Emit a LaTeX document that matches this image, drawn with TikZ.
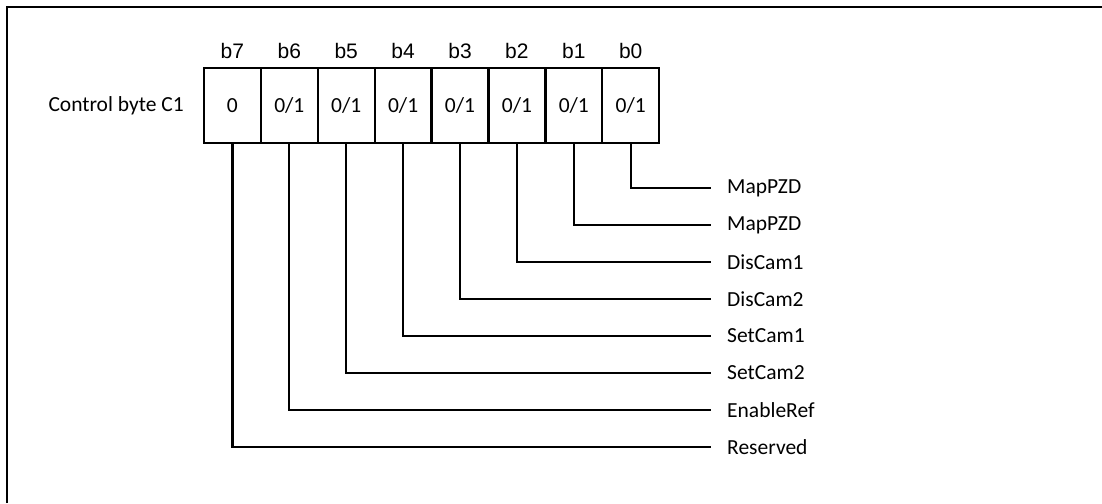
\documentclass[tikz,border=0pt]{standalone}
\usepackage{fontspec}
\setmainfont{Carlito}
\newfontfamily\bitfont{Liberation Sans}
\begin{document}
\begin{tikzpicture}[x=1pt,y=-1pt,
  every node/.style={font=\fontsize{21.5}{25}\selectfont},
  cell/.style={draw,line width=2.3pt,minimum width=56.9pt,minimum height=75pt,inner sep=0pt},
  bitlab/.style={inner sep=0pt,font=\bitfont\fontsize{21}{25}\selectfont},
  sig/.style={anchor=west,inner xsep=16pt,inner ysep=0pt},
  wire/.style={line width=2.3pt},
  frame/.style={line width=2.8pt}]
\useasboundingbox (0,0) rectangle (1102,503);
\coordinate (fbl) at (7,503);
\coordinate (ftl) at (7,7);
\coordinate (ftr) at (1102,7);
\draw[frame] (fbl) -- (ftl) -- (ftr);
\node[anchor=east,inner sep=0pt] (title) at (184,105.5) {Control byte C1};
\node[cell] (c7) at (232.4,105.5) {0};
\node[cell] (c6) at (289.3,105.5) {0/1};
\node[cell] (c5) at (346.2,105.5) {0/1};
\node[cell] (c4) at (403.1,105.5) {0/1};
\node[cell] (c3) at (460.0,105.5) {0/1};
\node[cell] (c2) at (516.9,105.5) {0/1};
\node[cell] (c1) at (573.8,105.5) {0/1};
\node[cell] (c0) at (630.7,105.5) {0/1};
\foreach \i in {0,...,7}{
  \node[bitlab] (t\i) at ([yshift=15.5pt]c\i.north) {b\i};
}
\node[sig] (l0) at (711,188) {MapPZD};
\node[sig] (l1) at (711,225) {MapPZD};
\node[sig] (l2) at (711,262) {DisCam1};
\node[sig] (l3) at (711,299) {DisCam2};
\node[sig] (l4) at (711,336) {SetCam1};
\node[sig] (l5) at (711,373) {SetCam2};
\node[sig] (l6) at (711,410) {EnableRef};
\node[sig] (l7) at (711,447) {Reserved};
\foreach \i in {0,...,7}{
  \draw[wire] (c\i.south) |- (l\i.west);
}
\end{tikzpicture}
\end{document}
